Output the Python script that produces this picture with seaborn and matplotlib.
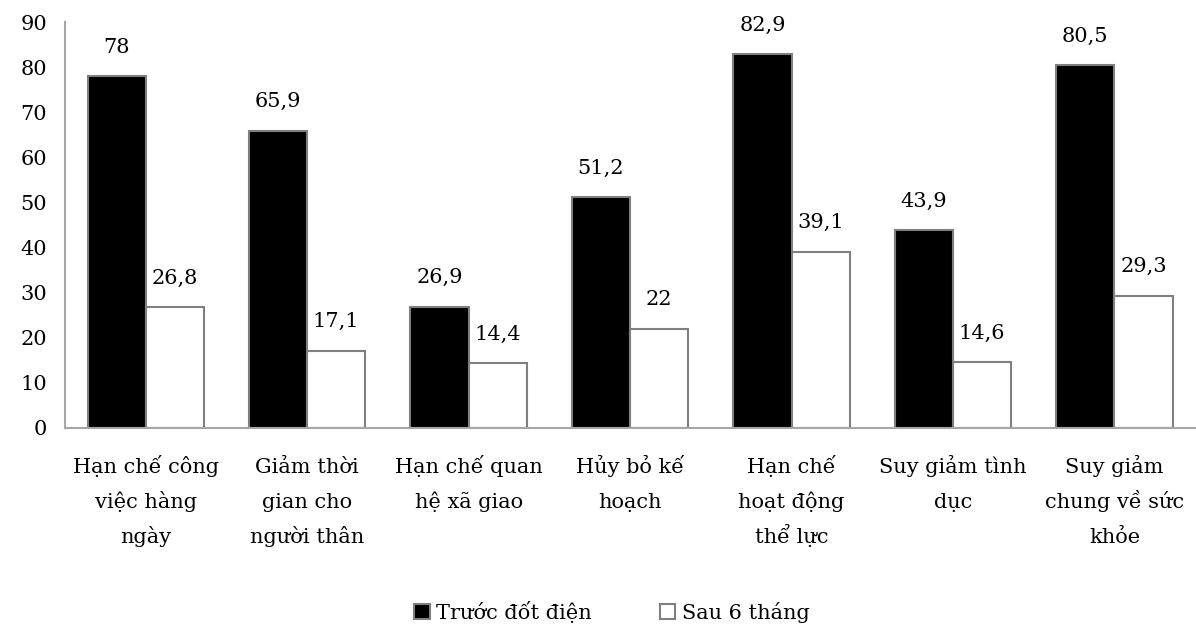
import matplotlib
matplotlib.use("Agg")
import matplotlib.pyplot as plt
import seaborn as sns
import pandas as pd

categories = ["Hạn chế công\nviệc hàng\nngày", "Giảm thời\ngian cho\nngười thân",
              "Hạn chế quan\nhệ xã giao", "Hủy bỏ kế\nhoạch", "Hạn chế\nhoạt động\nthể lực",
              "Suy giảm tình\ndục", "Suy giảm\nchung về sức\nkhỏe"]
series_names = ["Trước đốt điện", "Sau 6 tháng"]
before = [78, 65.9, 26.9, 51.2, 82.9, 43.9, 80.5]
after = [26.8, 17.1, 14.4, 22, 39.1, 14.6, 29.3]
yticks = [0, 10, 20, 30, 40, 50, 60, 70, 80, 90]

sns.set_theme(style="white")
plt.rcParams['font.family'] = ['DejaVu Serif', 'Liberation Serif']
plt.rcParams['text.color'] = 'black'
FS = 15

df = pd.DataFrame({
    "cat": categories * 2,
    "series": [series_names[0]] * len(categories) + [series_names[1]] * len(categories),
    "value": before + after,
})

fig = plt.figure(figsize=(11.96, 6.29), dpi=100)
ax = fig.add_axes([0.0543, 0.3196, 0.945, 0.6454])
sns.barplot(data=df, x="cat", y="value", hue="series", ax=ax,
            palette=["black", "white"], edgecolor="#7f7f7f", linewidth=1.5,
            width=0.72, gap=0, legend=True)

ax.set_ylim(0, 90)
ax.set_yticks(yticks)
ax.set_xlim(-0.5, len(categories) - 0.5)
ax.set_xlabel("")
ax.set_ylabel("")
ax.tick_params(axis="y", labelsize=FS, length=0, pad=13, labelcolor="black")
ax.tick_params(axis="x", length=0, labelbottom=False)
for s in ["top", "right"]:
    ax.spines[s].set_visible(False)
for s in ["left", "bottom"]:
    ax.spines[s].set_color("#a6a6a6")
    ax.spines[s].set_linewidth(1.5)

# category labels, one line at a time for even line spacing
xtr = ax.get_xaxis_transform()
for i, cat in enumerate(categories):
    for k, line in enumerate(cat.split("\n")):
        ax.annotate(line, xy=(i, 0), xycoords=xtr,
                    xytext=(0, -32.4 - 25.2 * k), textcoords="offset points",
                    ha="center", va="baseline", fontsize=FS, color="black",
                    annotation_clip=False)

def fmt(v):
    return (f"{v:g}").replace(".", ",")

for cont in ax.containers:
    ax.bar_label(cont, labels=[fmt(v) for v in cont.datavalues], padding=14,
                 fontsize=FS, color="black")

ax.legend(loc="center", bbox_to_anchor=(0.484, -0.453), ncol=2, frameon=False,
          fontsize=FS, handlelength=0.75, handleheight=0.75, handletextpad=0.3,
          columnspacing=3.25, labelcolor="black")

fig.savefig("out.png", dpi=100)
